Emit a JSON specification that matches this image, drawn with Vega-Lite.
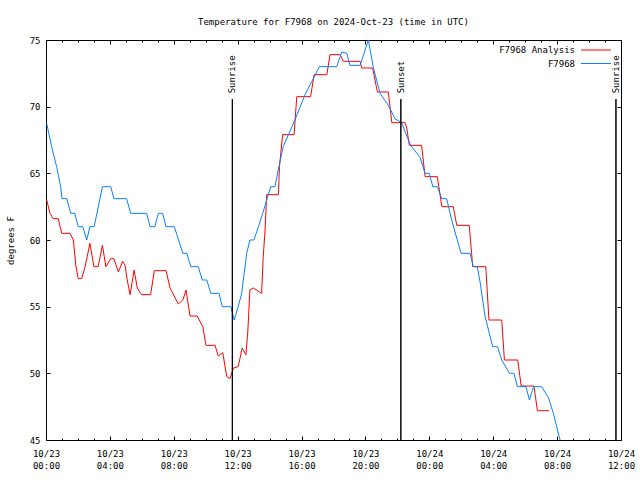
{
  "$schema": "https://vega.github.io/schema/vega-lite/v6.json",
  "width": 575,
  "height": 400,
  "autosize": {"type": "none"},
  "padding": {"left": 46, "top": 40, "right": 19, "bottom": 40},
  "title": {
    "text": "Temperature for F7968 on 2024-Oct-23 (time in UTC)",
    "font": "DejaVu Sans Mono",
    "fontSize": 9,
    "fontWeight": "normal",
    "color": "black",
    "anchor": "middle",
    "frame": "group",
    "baseline": "alphabetic",
    "offset": 2
  },
  "config": {
    "view": {"stroke": "black", "strokeWidth": 1},
    "axis": {
      "grid": false,
      "domain": false,
      "labelFont": "DejaVu Sans Mono",
      "labelFontSize": 9,
      "labelColor": "black",
      "tickColor": "black",
      "tickWidth": 1,
      "titleFont": "DejaVu Sans Mono",
      "titleFontSize": 9,
      "titleFontWeight": "normal",
      "titleColor": "black"
    },
    "legend": {
      "labelFont": "DejaVu Sans Mono",
      "labelFontSize": 9,
      "labelColor": "black"
    }
  },
  "resolve": {"axis": {"x": "independent", "y": "independent"}},
  "layer": [
    {
      "data": {
        "values": [
          {"time": "2024-10-23T00:02:00Z", "temp": 63.05, "series": "F7968 Analysis"},
          {"time": "2024-10-23T00:15:00Z", "temp": 62.0, "series": "F7968 Analysis"},
          {"time": "2024-10-23T00:27:00Z", "temp": 61.6, "series": "F7968 Analysis"},
          {"time": "2024-10-23T00:46:00Z", "temp": 61.6, "series": "F7968 Analysis"},
          {"time": "2024-10-23T00:59:00Z", "temp": 60.5, "series": "F7968 Analysis"},
          {"time": "2024-10-23T01:30:00Z", "temp": 60.5, "series": "F7968 Analysis"},
          {"time": "2024-10-23T01:43:00Z", "temp": 60.0, "series": "F7968 Analysis"},
          {"time": "2024-10-23T01:52:00Z", "temp": 58.1, "series": "F7968 Analysis"},
          {"time": "2024-10-23T02:01:00Z", "temp": 57.1, "series": "F7968 Analysis"},
          {"time": "2024-10-23T02:14:00Z", "temp": 57.1, "series": "F7968 Analysis"},
          {"time": "2024-10-23T02:27:00Z", "temp": 58.0, "series": "F7968 Analysis"},
          {"time": "2024-10-23T02:45:00Z", "temp": 59.75, "series": "F7968 Analysis"},
          {"time": "2024-10-23T03:00:00Z", "temp": 58.0, "series": "F7968 Analysis"},
          {"time": "2024-10-23T03:16:00Z", "temp": 58.0, "series": "F7968 Analysis"},
          {"time": "2024-10-23T03:32:00Z", "temp": 59.6, "series": "F7968 Analysis"},
          {"time": "2024-10-23T03:45:00Z", "temp": 58.0, "series": "F7968 Analysis"},
          {"time": "2024-10-23T04:03:00Z", "temp": 58.6, "series": "F7968 Analysis"},
          {"time": "2024-10-23T04:15:00Z", "temp": 58.6, "series": "F7968 Analysis"},
          {"time": "2024-10-23T04:32:00Z", "temp": 57.6, "series": "F7968 Analysis"},
          {"time": "2024-10-23T04:48:00Z", "temp": 58.4, "series": "F7968 Analysis"},
          {"time": "2024-10-23T04:57:00Z", "temp": 58.1, "series": "F7968 Analysis"},
          {"time": "2024-10-23T05:05:00Z", "temp": 57.0, "series": "F7968 Analysis"},
          {"time": "2024-10-23T05:16:00Z", "temp": 55.9, "series": "F7968 Analysis"},
          {"time": "2024-10-23T05:31:00Z", "temp": 57.75, "series": "F7968 Analysis"},
          {"time": "2024-10-23T05:43:00Z", "temp": 56.4, "series": "F7968 Analysis"},
          {"time": "2024-10-23T05:59:00Z", "temp": 55.9, "series": "F7968 Analysis"},
          {"time": "2024-10-23T06:33:00Z", "temp": 55.9, "series": "F7968 Analysis"},
          {"time": "2024-10-23T06:47:00Z", "temp": 57.7, "series": "F7968 Analysis"},
          {"time": "2024-10-23T07:31:00Z", "temp": 57.7, "series": "F7968 Analysis"},
          {"time": "2024-10-23T07:46:00Z", "temp": 56.4, "series": "F7968 Analysis"},
          {"time": "2024-10-23T08:17:00Z", "temp": 55.2, "series": "F7968 Analysis"},
          {"time": "2024-10-23T08:34:00Z", "temp": 55.5, "series": "F7968 Analysis"},
          {"time": "2024-10-23T08:46:00Z", "temp": 56.25, "series": "F7968 Analysis"},
          {"time": "2024-10-23T09:01:00Z", "temp": 54.3, "series": "F7968 Analysis"},
          {"time": "2024-10-23T09:28:00Z", "temp": 54.3, "series": "F7968 Analysis"},
          {"time": "2024-10-23T09:49:00Z", "temp": 53.5, "series": "F7968 Analysis"},
          {"time": "2024-10-23T10:01:00Z", "temp": 52.1, "series": "F7968 Analysis"},
          {"time": "2024-10-23T10:35:00Z", "temp": 52.1, "series": "F7968 Analysis"},
          {"time": "2024-10-23T10:47:00Z", "temp": 51.3, "series": "F7968 Analysis"},
          {"time": "2024-10-23T11:04:00Z", "temp": 51.55, "series": "F7968 Analysis"},
          {"time": "2024-10-23T11:19:00Z", "temp": 49.75, "series": "F7968 Analysis"},
          {"time": "2024-10-23T11:31:00Z", "temp": 49.6, "series": "F7968 Analysis"},
          {"time": "2024-10-23T11:44:00Z", "temp": 50.4, "series": "F7968 Analysis"},
          {"time": "2024-10-23T12:02:00Z", "temp": 50.5, "series": "F7968 Analysis"},
          {"time": "2024-10-23T12:17:00Z", "temp": 51.9, "series": "F7968 Analysis"},
          {"time": "2024-10-23T12:31:00Z", "temp": 51.4, "series": "F7968 Analysis"},
          {"time": "2024-10-23T12:38:00Z", "temp": 53.1, "series": "F7968 Analysis"},
          {"time": "2024-10-23T12:46:00Z", "temp": 56.25, "series": "F7968 Analysis"},
          {"time": "2024-10-23T12:59:00Z", "temp": 56.4, "series": "F7968 Analysis"},
          {"time": "2024-10-23T13:30:00Z", "temp": 56.0, "series": "F7968 Analysis"},
          {"time": "2024-10-23T13:36:00Z", "temp": 58.75, "series": "F7968 Analysis"},
          {"time": "2024-10-23T13:43:00Z", "temp": 60.75, "series": "F7968 Analysis"},
          {"time": "2024-10-23T13:49:00Z", "temp": 63.4, "series": "F7968 Analysis"},
          {"time": "2024-10-23T14:33:00Z", "temp": 63.4, "series": "F7968 Analysis"},
          {"time": "2024-10-23T14:37:00Z", "temp": 65.5, "series": "F7968 Analysis"},
          {"time": "2024-10-23T14:49:00Z", "temp": 67.9, "series": "F7968 Analysis"},
          {"time": "2024-10-23T15:32:00Z", "temp": 67.9, "series": "F7968 Analysis"},
          {"time": "2024-10-23T15:42:00Z", "temp": 70.75, "series": "F7968 Analysis"},
          {"time": "2024-10-23T16:34:00Z", "temp": 70.75, "series": "F7968 Analysis"},
          {"time": "2024-10-23T16:47:00Z", "temp": 72.4, "series": "F7968 Analysis"},
          {"time": "2024-10-23T17:35:00Z", "temp": 72.4, "series": "F7968 Analysis"},
          {"time": "2024-10-23T17:47:00Z", "temp": 73.9, "series": "F7968 Analysis"},
          {"time": "2024-10-23T18:25:00Z", "temp": 73.9, "series": "F7968 Analysis"},
          {"time": "2024-10-23T18:37:00Z", "temp": 73.4, "series": "F7968 Analysis"},
          {"time": "2024-10-23T19:40:00Z", "temp": 73.4, "series": "F7968 Analysis"},
          {"time": "2024-10-23T19:46:00Z", "temp": 72.9, "series": "F7968 Analysis"},
          {"time": "2024-10-23T20:27:00Z", "temp": 72.9, "series": "F7968 Analysis"},
          {"time": "2024-10-23T20:45:00Z", "temp": 71.1, "series": "F7968 Analysis"},
          {"time": "2024-10-23T21:26:00Z", "temp": 71.1, "series": "F7968 Analysis"},
          {"time": "2024-10-23T21:39:00Z", "temp": 68.8, "series": "F7968 Analysis"},
          {"time": "2024-10-23T22:29:00Z", "temp": 68.8, "series": "F7968 Analysis"},
          {"time": "2024-10-23T22:35:00Z", "temp": 68.4, "series": "F7968 Analysis"},
          {"time": "2024-10-23T22:45:00Z", "temp": 67.1, "series": "F7968 Analysis"},
          {"time": "2024-10-23T23:31:00Z", "temp": 67.1, "series": "F7968 Analysis"},
          {"time": "2024-10-23T23:44:00Z", "temp": 64.75, "series": "F7968 Analysis"},
          {"time": "2024-10-24T00:30:00Z", "temp": 64.75, "series": "F7968 Analysis"},
          {"time": "2024-10-24T00:47:00Z", "temp": 62.5, "series": "F7968 Analysis"},
          {"time": "2024-10-24T01:30:00Z", "temp": 62.5, "series": "F7968 Analysis"},
          {"time": "2024-10-24T01:43:00Z", "temp": 61.1, "series": "F7968 Analysis"},
          {"time": "2024-10-24T02:30:00Z", "temp": 61.1, "series": "F7968 Analysis"},
          {"time": "2024-10-24T02:43:00Z", "temp": 58.0, "series": "F7968 Analysis"},
          {"time": "2024-10-24T03:32:00Z", "temp": 58.0, "series": "F7968 Analysis"},
          {"time": "2024-10-24T03:44:00Z", "temp": 54.0, "series": "F7968 Analysis"},
          {"time": "2024-10-24T04:32:00Z", "temp": 54.0, "series": "F7968 Analysis"},
          {"time": "2024-10-24T04:42:00Z", "temp": 51.0, "series": "F7968 Analysis"},
          {"time": "2024-10-24T05:32:00Z", "temp": 51.0, "series": "F7968 Analysis"},
          {"time": "2024-10-24T05:45:00Z", "temp": 49.05, "series": "F7968 Analysis"},
          {"time": "2024-10-24T06:33:00Z", "temp": 49.05, "series": "F7968 Analysis"},
          {"time": "2024-10-24T06:46:00Z", "temp": 47.2, "series": "F7968 Analysis"},
          {"time": "2024-10-24T07:30:00Z", "temp": 47.2, "series": "F7968 Analysis"},
          {"time": "2024-10-23T00:02:00Z", "temp": 68.8, "series": "F7968"},
          {"time": "2024-10-23T00:21:00Z", "temp": 67.0, "series": "F7968"},
          {"time": "2024-10-23T00:40:00Z", "temp": 65.5, "series": "F7968"},
          {"time": "2024-10-23T00:55:00Z", "temp": 64.0, "series": "F7968"},
          {"time": "2024-10-23T01:00:00Z", "temp": 63.1, "series": "F7968"},
          {"time": "2024-10-23T01:18:00Z", "temp": 63.1, "series": "F7968"},
          {"time": "2024-10-23T01:33:00Z", "temp": 62.0, "series": "F7968"},
          {"time": "2024-10-23T01:48:00Z", "temp": 62.0, "series": "F7968"},
          {"time": "2024-10-23T02:01:00Z", "temp": 61.0, "series": "F7968"},
          {"time": "2024-10-23T02:18:00Z", "temp": 61.0, "series": "F7968"},
          {"time": "2024-10-23T02:33:00Z", "temp": 60.0, "series": "F7968"},
          {"time": "2024-10-23T02:45:00Z", "temp": 61.0, "series": "F7968"},
          {"time": "2024-10-23T03:01:00Z", "temp": 61.0, "series": "F7968"},
          {"time": "2024-10-23T03:32:00Z", "temp": 64.0, "series": "F7968"},
          {"time": "2024-10-23T04:03:00Z", "temp": 64.0, "series": "F7968"},
          {"time": "2024-10-23T04:15:00Z", "temp": 63.1, "series": "F7968"},
          {"time": "2024-10-23T05:03:00Z", "temp": 63.1, "series": "F7968"},
          {"time": "2024-10-23T05:18:00Z", "temp": 62.0, "series": "F7968"},
          {"time": "2024-10-23T06:18:00Z", "temp": 62.0, "series": "F7968"},
          {"time": "2024-10-23T06:31:00Z", "temp": 61.0, "series": "F7968"},
          {"time": "2024-10-23T06:49:00Z", "temp": 61.0, "series": "F7968"},
          {"time": "2024-10-23T07:02:00Z", "temp": 62.0, "series": "F7968"},
          {"time": "2024-10-23T07:18:00Z", "temp": 62.0, "series": "F7968"},
          {"time": "2024-10-23T07:31:00Z", "temp": 61.0, "series": "F7968"},
          {"time": "2024-10-23T08:02:00Z", "temp": 61.0, "series": "F7968"},
          {"time": "2024-10-23T08:34:00Z", "temp": 59.0, "series": "F7968"},
          {"time": "2024-10-23T08:49:00Z", "temp": 59.0, "series": "F7968"},
          {"time": "2024-10-23T09:04:00Z", "temp": 58.0, "series": "F7968"},
          {"time": "2024-10-23T09:32:00Z", "temp": 58.0, "series": "F7968"},
          {"time": "2024-10-23T09:47:00Z", "temp": 57.0, "series": "F7968"},
          {"time": "2024-10-23T10:04:00Z", "temp": 57.0, "series": "F7968"},
          {"time": "2024-10-23T10:19:00Z", "temp": 56.0, "series": "F7968"},
          {"time": "2024-10-23T10:50:00Z", "temp": 56.0, "series": "F7968"},
          {"time": "2024-10-23T11:02:00Z", "temp": 55.0, "series": "F7968"},
          {"time": "2024-10-23T11:34:00Z", "temp": 55.0, "series": "F7968"},
          {"time": "2024-10-23T11:47:00Z", "temp": 54.0, "series": "F7968"},
          {"time": "2024-10-23T12:02:00Z", "temp": 55.0, "series": "F7968"},
          {"time": "2024-10-23T12:15:00Z", "temp": 56.0, "series": "F7968"},
          {"time": "2024-10-23T12:21:00Z", "temp": 57.0, "series": "F7968"},
          {"time": "2024-10-23T12:28:00Z", "temp": 58.0, "series": "F7968"},
          {"time": "2024-10-23T12:34:00Z", "temp": 59.0, "series": "F7968"},
          {"time": "2024-10-23T12:46:00Z", "temp": 60.0, "series": "F7968"},
          {"time": "2024-10-23T13:01:00Z", "temp": 60.0, "series": "F7968"},
          {"time": "2024-10-23T13:18:00Z", "temp": 61.0, "series": "F7968"},
          {"time": "2024-10-23T13:34:00Z", "temp": 62.0, "series": "F7968"},
          {"time": "2024-10-23T13:49:00Z", "temp": 63.0, "series": "F7968"},
          {"time": "2024-10-23T14:04:00Z", "temp": 64.0, "series": "F7968"},
          {"time": "2024-10-23T14:20:00Z", "temp": 64.0, "series": "F7968"},
          {"time": "2024-10-23T14:35:00Z", "temp": 65.5, "series": "F7968"},
          {"time": "2024-10-23T14:51:00Z", "temp": 67.0, "series": "F7968"},
          {"time": "2024-10-23T15:13:00Z", "temp": 68.0, "series": "F7968"},
          {"time": "2024-10-23T15:35:00Z", "temp": 69.0, "series": "F7968"},
          {"time": "2024-10-23T16:13:00Z", "temp": 70.9, "series": "F7968"},
          {"time": "2024-10-23T16:44:00Z", "temp": 72.1, "series": "F7968"},
          {"time": "2024-10-23T17:07:00Z", "temp": 73.0, "series": "F7968"},
          {"time": "2024-10-23T18:12:00Z", "temp": 73.0, "series": "F7968"},
          {"time": "2024-10-23T18:31:00Z", "temp": 74.1, "series": "F7968"},
          {"time": "2024-10-23T18:50:00Z", "temp": 74.0, "series": "F7968"},
          {"time": "2024-10-23T19:02:00Z", "temp": 73.1, "series": "F7968"},
          {"time": "2024-10-23T19:40:00Z", "temp": 73.1, "series": "F7968"},
          {"time": "2024-10-23T20:11:00Z", "temp": 75.0, "series": "F7968"},
          {"time": "2024-10-23T20:30:00Z", "temp": 72.9, "series": "F7968"},
          {"time": "2024-10-23T20:55:00Z", "temp": 71.0, "series": "F7968"},
          {"time": "2024-10-23T21:26:00Z", "temp": 70.1, "series": "F7968"},
          {"time": "2024-10-23T21:51:00Z", "temp": 69.1, "series": "F7968"},
          {"time": "2024-10-23T22:16:00Z", "temp": 68.8, "series": "F7968"},
          {"time": "2024-10-23T22:31:00Z", "temp": 68.0, "series": "F7968"},
          {"time": "2024-10-23T22:50:00Z", "temp": 67.1, "series": "F7968"},
          {"time": "2024-10-23T23:25:00Z", "temp": 66.2, "series": "F7968"},
          {"time": "2024-10-23T23:44:00Z", "temp": 65.0, "series": "F7968"},
          {"time": "2024-10-24T00:00:00Z", "temp": 65.0, "series": "F7968"},
          {"time": "2024-10-24T00:13:00Z", "temp": 64.0, "series": "F7968"},
          {"time": "2024-10-24T00:30:00Z", "temp": 64.0, "series": "F7968"},
          {"time": "2024-10-24T00:47:00Z", "temp": 63.1, "series": "F7968"},
          {"time": "2024-10-24T01:05:00Z", "temp": 63.1, "series": "F7968"},
          {"time": "2024-10-24T01:24:00Z", "temp": 61.5, "series": "F7968"},
          {"time": "2024-10-24T01:59:00Z", "temp": 59.0, "series": "F7968"},
          {"time": "2024-10-24T02:33:00Z", "temp": 59.0, "series": "F7968"},
          {"time": "2024-10-24T02:45:00Z", "temp": 58.0, "series": "F7968"},
          {"time": "2024-10-24T03:00:00Z", "temp": 58.0, "series": "F7968"},
          {"time": "2024-10-24T03:11:00Z", "temp": 56.8, "series": "F7968"},
          {"time": "2024-10-24T03:29:00Z", "temp": 54.3, "series": "F7968"},
          {"time": "2024-10-24T03:58:00Z", "temp": 52.0, "series": "F7968"},
          {"time": "2024-10-24T04:16:00Z", "temp": 52.0, "series": "F7968"},
          {"time": "2024-10-24T04:32:00Z", "temp": 51.0, "series": "F7968"},
          {"time": "2024-10-24T05:01:00Z", "temp": 50.0, "series": "F7968"},
          {"time": "2024-10-24T05:18:00Z", "temp": 50.0, "series": "F7968"},
          {"time": "2024-10-24T05:31:00Z", "temp": 49.0, "series": "F7968"},
          {"time": "2024-10-24T06:03:00Z", "temp": 49.0, "series": "F7968"},
          {"time": "2024-10-24T06:16:00Z", "temp": 48.0, "series": "F7968"},
          {"time": "2024-10-24T06:31:00Z", "temp": 49.0, "series": "F7968"},
          {"time": "2024-10-24T07:02:00Z", "temp": 49.0, "series": "F7968"},
          {"time": "2024-10-24T07:27:00Z", "temp": 48.2, "series": "F7968"},
          {"time": "2024-10-24T07:46:00Z", "temp": 47.0, "series": "F7968"},
          {"time": "2024-10-24T08:11:00Z", "temp": 45.0, "series": "F7968"}
        ]
      },
      "mark": {"type": "line", "strokeWidth": 1, "clip": true},
      "encoding": {
        "x": {
          "field": "time",
          "type": "temporal",
          "scale": {"type": "utc", "domain": [1729641600000, 1729771200000]},
          "axis": {
            "orient": "bottom",
            "title": null,
            "values": [1729641600000, 1729656000000, 1729670400000, 1729684800000, 1729699200000, 1729713600000, 1729728000000, 1729742400000, 1729756800000, 1729771200000],
            "labelExpr": "[utcFormat(datum.value, '%m/%d'), utcFormat(datum.value, '%H:%M')]",
            "tickSize": -4,
            "labelPadding": 13,
            "labelBaseline": "top",
            "labelLineHeight": 12.6,
            "labelFlush": false,
            "labelOverlap": false
          }
        },
        "y": {
          "field": "temp",
          "type": "quantitative",
          "scale": {"domain": [45, 75], "nice": false, "zero": false},
          "axis": {
            "orient": "left",
            "title": "degrees F",
            "values": [45, 50, 55, 60, 65, 70, 75],
            "tickSize": -4,
            "labelPadding": 10,
            "titlePadding": 14
          }
        },
        "color": {
          "field": "series",
          "type": "nominal",
          "scale": {"domain": ["F7968 Analysis", "F7968"], "range": ["#ff0000", "#0a80ff"]},
          "legend": {
            "title": null,
            "orient": "none",
            "legendX": 545.5,
            "legendY": 5.5,
            "symbolType": "M-4,0H4",
            "symbolSize": 56.25,
            "symbolStrokeWidth": 1,
            "symbolFillColor": "transparent",
            "labelAlign": "right",
            "labelOffset": -25.5,
            "rowPadding": 3.5,
            "labelLimit": 300
          }
        }
      }
    },
    {
      "data": {
        "values": [
          {"event": "Sunrise", "time": "2024-10-23T11:40:00Z"},
          {"event": "Sunset", "time": "2024-10-23T22:13:00Z"},
          {"event": "Sunrise", "time": "2024-10-24T11:41:00Z"}
        ]
      },
      "mark": {"type": "rule", "color": "black", "strokeWidth": 1},
      "encoding": {
        "x": {
          "field": "time",
          "type": "temporal",
          "axis": {
            "orient": "top",
            "title": null,
            "labels": false,
            "values": [1729641600000, 1729656000000, 1729670400000, 1729684800000, 1729699200000, 1729713600000, 1729728000000, 1729742400000, 1729756800000, 1729771200000],
            "tickSize": -4
          }
        },
        "y": {
          "datum": 45,
          "type": "quantitative",
          "axis": {
            "orient": "right",
            "title": null,
            "labels": false,
            "values": [45, 50, 55, 60, 65, 70, 75],
            "tickSize": -4
          }
        },
        "y2": {"datum": 70.57}
      }
    },
    {
      "data": {
        "values": [
          {"event": "Sunrise", "time": "2024-10-23T11:40:00Z"},
          {"event": "Sunset", "time": "2024-10-23T22:13:00Z"},
          {"event": "Sunrise", "time": "2024-10-24T11:41:00Z"}
        ]
      },
      "mark": {
        "type": "text",
        "angle": 270,
        "align": "left",
        "baseline": "middle",
        "font": "DejaVu Sans Mono",
        "fontSize": 9,
        "color": "black"
      },
      "encoding": {
        "x": {
          "field": "time",
          "type": "temporal",
          "axis": {
            "orient": "bottom",
            "title": null,
            "labels": false,
            "values": [1729641600000, 1729645200000, 1729648800000, 1729652400000, 1729656000000, 1729659600000, 1729663200000, 1729666800000, 1729670400000, 1729674000000, 1729677600000, 1729681200000, 1729684800000, 1729688400000, 1729692000000, 1729695600000, 1729699200000, 1729702800000, 1729706400000, 1729710000000, 1729713600000, 1729717200000, 1729720800000, 1729724400000, 1729728000000, 1729731600000, 1729735200000, 1729738800000, 1729742400000, 1729746000000, 1729749600000, 1729753200000, 1729756800000, 1729760400000, 1729764000000, 1729767600000, 1729771200000],
            "tickSize": -2
          }
        },
        "y": {"datum": 71.0, "type": "quantitative", "axis": null},
        "text": {"field": "event"}
      }
    },
    {
      "data": {
        "values": [
          {"event": "Sunrise", "time": "2024-10-23T11:40:00Z"},
          {"event": "Sunset", "time": "2024-10-23T22:13:00Z"},
          {"event": "Sunrise", "time": "2024-10-24T11:41:00Z"}
        ]
      },
      "mark": {"type": "rule", "color": "black", "strokeWidth": 1},
      "encoding": {
        "x": {
          "field": "time",
          "type": "temporal",
          "axis": {
            "orient": "top",
            "title": null,
            "labels": false,
            "values": [1729641600000, 1729645200000, 1729648800000, 1729652400000, 1729656000000, 1729659600000, 1729663200000, 1729666800000, 1729670400000, 1729674000000, 1729677600000, 1729681200000, 1729684800000, 1729688400000, 1729692000000, 1729695600000, 1729699200000, 1729702800000, 1729706400000, 1729710000000, 1729713600000, 1729717200000, 1729720800000, 1729724400000, 1729728000000, 1729731600000, 1729735200000, 1729738800000, 1729742400000, 1729746000000, 1729749600000, 1729753200000, 1729756800000, 1729760400000, 1729764000000, 1729767600000, 1729771200000],
            "tickSize": -2
          }
        },
        "y": {"datum": 45, "type": "quantitative", "axis": null},
        "y2": {"datum": 70.57}
      }
    }
  ]
}
